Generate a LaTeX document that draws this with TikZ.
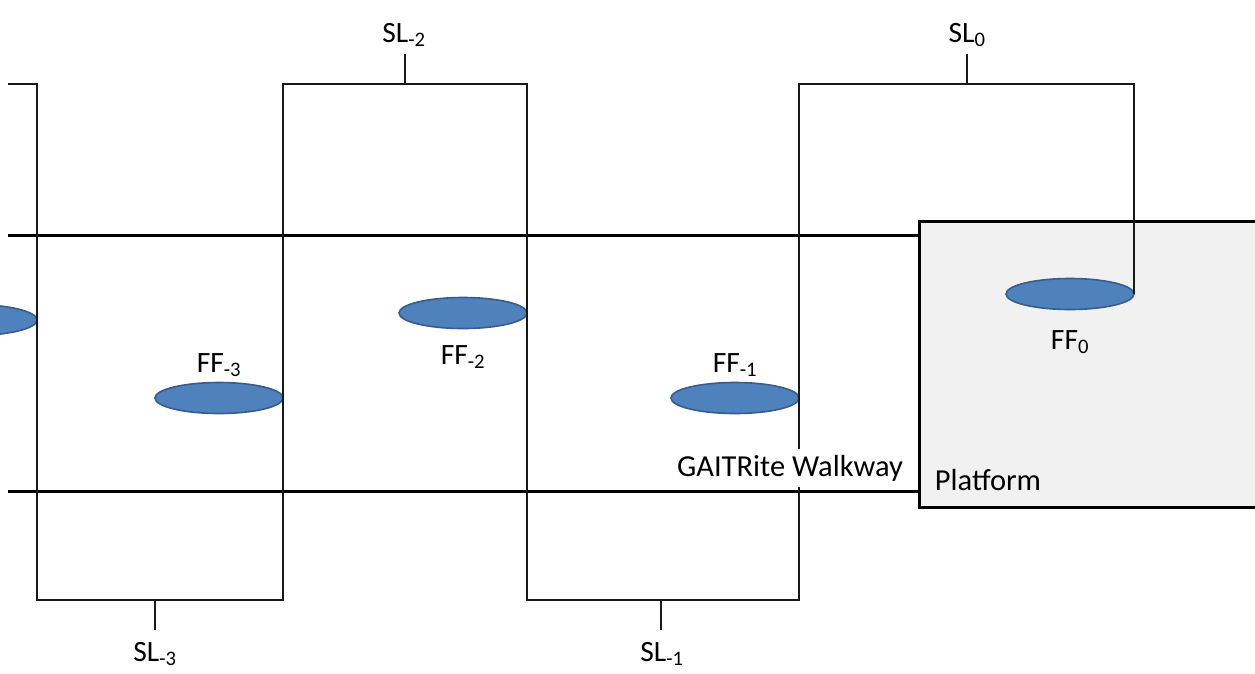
\documentclass[tikz,border=0pt]{standalone}
\usepackage{fontspec}
\setmainfont{Carlito}
\usetikzlibrary{shapes.geometric}
\definecolor{footfill}{RGB}{79,129,189}
\definecolor{footedge}{RGB}{56,93,138}
\definecolor{platfill}{RGB}{241,241,241}
\tikzset{
  thinline/.style={line width=1.2pt, draw=black!90},
  walkline/.style={line width=3pt, draw=black},
  foot/.style={ellipse, fill=footfill, draw=footedge, line width=1.6pt,
    minimum width=128pt, minimum height=31pt, inner sep=0pt, outer sep=0pt},
  lab/.style={anchor=base, inner sep=0pt, font=\fontsize{29.5}{34}\selectfont},
  biglab/.style={anchor=base, font=\fontsize{30.5}{36}\selectfont},
}
\begin{document}
\begin{tikzpicture}[x=1pt, y=-1pt]
\useasboundingbox (0,0) rectangle (1255,673);
\fill[white] (0,0) rectangle (1255,673);
\clip (0,0) rectangle (1255,673);
% walkway
\draw[walkline] (8,235) -- (918,235);
\draw[walkline] (8,491) -- (918,491);
% platform
\node[draw=black, line width=3pt, fill=platfill, inner sep=0pt, anchor=north west,
  minimum width=360pt, minimum height=286pt] (plat) at (918,220) {};
% feet
\node[foot] (fm) at (-27,320) {};
\node[foot] (f3) at (219,398) {};
\node[foot] (f2) at (463,313) {};
\node[foot] (f1) at (735,398) {};
\node[foot] (f0) at (1070,294) {};
% step path
\coordinate (a0) at (8,84);
\coordinate (a1) at (37,84);
\coordinate (b1) at (37,600);
\coordinate (b2) at (283,600);
\coordinate (a2) at (283,84);
\coordinate (a3) at (527,84);
\coordinate (b3) at (527,600);
\coordinate (b4) at (799,600);
\coordinate (a4) at (799,84);
\coordinate (a5) at (f0.east |- a4);
\draw[thinline] (a0) -- (a1) -- (b1) -- (b2) -- (a2) -- (a3) -- (b3) -- (b4) -- (a4) -- (a5) -- (f0.east);
% ticks
\coordinate (t3) at (155,600);
\coordinate (t2) at (405,84);
\coordinate (t1) at (661,600);
\coordinate (t0) at (967,84);
\draw[thinline] (t3) -- ++(0,30);
\draw[thinline] (t2) -- ++(0,-30);
\draw[thinline] (t1) -- ++(0,30);
\draw[thinline] (t0) -- ++(0,-30);
% labels
\node[lab] (sl3) at (155,661) {SL\textsubscript{-3}};
\node[lab] (sl2) at (404,42) {SL\textsubscript{-2}};
\node[lab] (sl1) at (662,661) {SL\textsubscript{-1}};
\node[lab] (sl0) at (967,42) {SL\textsubscript{0}};
\node[lab] (ff3) at (219,372) {FF\textsubscript{-3}};
\node[lab] (ff2) at (463,364) {FF\textsubscript{-2}};
\node[lab] (ff1) at (735,372) {FF\textsubscript{-1}};
\node[lab] (ff0) at (1070,349) {FF\textsubscript{0}};
\node[biglab, fill=white, inner xsep=4pt, inner ysep=6pt] (walk) at (790,476) {GAITRite Walkway};
\node[biglab, inner sep=0pt] (platlab) at (988,490) {Platform};
\end{tikzpicture}
\end{document}
